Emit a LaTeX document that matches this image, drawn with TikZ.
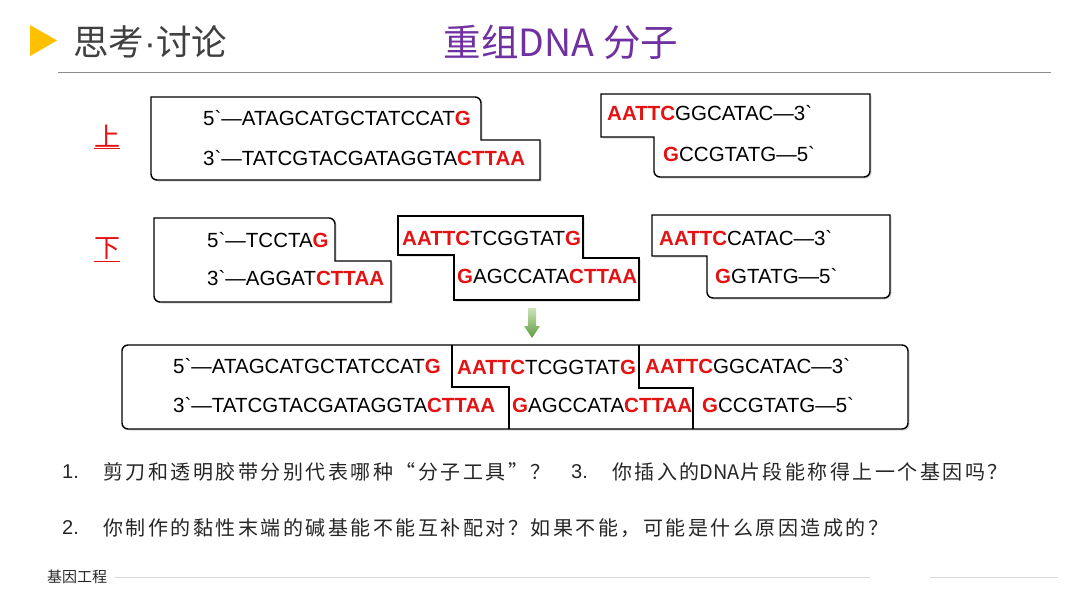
\documentclass[tikz,border=0pt]{standalone}
\usepackage{fontspec}
\setmainfont{Liberation Sans}[Ligatures=TeXOff]
\newfontfamily\cjk{Noto Sans CJK SC}
\newfontfamily\cjkq[LetterSpace=12.5]{Noto Sans CJK SC}
\newfontfamily\latdot{Liberation Sans}
\usetikzlibrary{shadows}
\definecolor{hdryellow}{HTML}{FFC000}
\definecolor{hdrgray}{HTML}{404040}
\definecolor{hdrpurple}{HTML}{7030A0}
\definecolor{seqred}{RGB}{228,18,18}
\definecolor{qtext}{HTML}{262626}
\definecolor{rulegray}{HTML}{8C8C8C}
\definecolor{footgray}{HTML}{D9D9D9}
\definecolor{arrtop}{RGB}{205,228,185}
\definecolor{arrbot}{RGB}{95,155,65}
\newcommand{\rb}[1]{\textcolor{seqred}{\textbf{#1}}}
\newcommand{\bq}{`}
\tikzset{
  seq/.style={anchor=west, inner sep=0pt, font=\fontsize{20.5}{25}\selectfont, text=black},
  dnabox/.style={draw=black, line width=1.4pt, fill=white,
    drop shadow={shadow xshift=1.6pt, shadow yshift=-1.6pt, opacity=0.3, fill=gray}},
  joinline/.style={draw=black, line width=2.4pt},
  sidelabel/.style={inner sep=0pt, text=seqred, font=\cjk\fontsize{26}{30}\selectfont},
  question/.style={anchor=west, inner sep=0pt, text=qtext, font=\cjkq\fontsize{20}{24}\selectfont},
  qnum/.style={anchor=west, inner sep=0pt, text=qtext, font=\fontsize{20}{24}\selectfont},
}
\begin{document}
\begin{tikzpicture}[x=1pt,y=-1pt]
\useasboundingbox (0,0) rectangle (1080,608);
% header
\fill[hdryellow] (30,25) -- (57,40.5) -- (30,56) -- cycle;
\node[anchor=west, inner sep=0pt, text=hdrgray, font=\cjk\fontsize{35.5}{42}\selectfont] (hdr) at (73,42) {思考{\latdot\fontsize{35.5}{42}\selectfont·}讨论};
\node[inner sep=0pt, text=hdrpurple, font=\cjk\fontsize{37.5}{44}\selectfont] (title) at (561,42) {重组DNA 分子};
\draw[rulegray, line width=1pt] (58,72) -- (1051,72);

% side labels
\node[sidelabel] (up) at (107,137) {\underline{上}};
\node[sidelabel] (down) at (107,250) {\underline{下}};

% Box A
\path[dnabox] (151,140) -- (151,97) [rounded corners=6] -- (481,97) [sharp corners] -- (481,140) -- (540,140) -- (540,180) [rounded corners=6] -- (151,180) -- cycle;
\node[seq] (a1) at (203,118) {5\bq—ATAGCATGCTATCCAT\rb{G}};
\node[seq] (a2) at (203,158) {3\bq—TATCGTACGATAGGTA\rb{CTTAA}};

% Box B
\path[dnabox] (601,115) -- (601,94) -- (870,94) [rounded corners=6] -- (870,177) -- (654,177) [sharp corners] -- (654,137) -- (601,137) -- cycle;
\node[seq] (b1) at (607,113) {\rb{AATTC}GGCATAC—3\bq};
\node[seq] (b2) at (663,154) {\rb{G}CCGTATG—5\bq};

% Box C
\path[dnabox] (154,260) -- (154,218) [rounded corners=6] -- (335,218) [sharp corners] -- (335,261) -- (391,261) -- (391,302) [rounded corners=6] -- (154,302) -- cycle;
\node[seq] (c1) at (207,240) {5\bq—TCCTA\rb{G}};
\node[seq] (c2) at (207,278) {3\bq—AGGAT\rb{CTTAA}};

% Box D
\path[dnabox] (398,216) -- (583,216) -- (583,258) -- (639,258) -- (639,300) -- (454,300) -- (454,255) -- (398,255) -- cycle;
\node[seq] (d1) at (402,238) {\rb{AATTC}TCGGTAT\rb{G}};
\node[seq] (d2) at (457,276) {\rb{G}AGCCATA\rb{CTTAA}};

% Box E
\path[dnabox] (652,235) -- (652,215) -- (890,215) [rounded corners=6] -- (890,298) -- (707,298) [sharp corners] -- (707,256) -- (652,256) -- cycle;
\node[seq] (e1) at (659,238) {\rb{AATTC}CATAC—3\bq};
\node[seq] (e2) at (715,276) {\rb{G}GTATG—5\bq};

% arrow
\shade[top color=arrtop, bottom color=arrbot] (528,308) -- (536,308) -- (536,326) -- (540,326) -- (532,338) -- (524,326) -- (528,326) -- cycle;

% combined box
\path[dnabox, rounded corners=6] (122,345) rectangle (908,429);
\path[joinline] (452,345) -- (452,387) -- (509,387) -- (509,429);
\path[joinline] (639,345) -- (639,388) -- (693,388) -- (693,429);
\node[seq] (f1) at (173,366) {5\bq—ATAGCATGCTATCCAT\rb{G}};
\node[seq] (f2) at (457,367) {\rb{AATTC}TCGGTAT\rb{G}};
\node[seq] (f3) at (645,366) {\rb{AATTC}GGCATAC—3\bq};
\node[seq] (g1) at (173,405) {3\bq—TATCGTACGATAGGTA\rb{CTTAA}};
\node[seq] (g2) at (512,405) {\rb{G}AGCCATA\rb{CTTAA}};
\node[seq] (g3) at (702,405) {\rb{G}CCGTATG—5\bq};

% questions
\node[qnum] (n1) at (62,472) {1.};
\node[question] (q1) at (103,472) {剪刀和透明胶带分别代表哪种“分子工具”？};
\node[qnum] (n3) at (571,472) {3.};
\node[question] (q3) at (612,472) {你插入的{\cjk\fontsize{20}{24}\selectfont DNA}片段能称得上一个基因吗？};
\node[qnum] (n2) at (62,528) {2.};
\node[question] (q2) at (103,528) {你制作的黏性末端的碱基能不能互补配对？如果不能，可能是什么原因造成的？};

% footer
\node[anchor=west, inner sep=0pt, text=qtext, font=\cjk\fontsize{15}{18}\selectfont] (foot) at (47,577) {基因工程};
\draw[footgray, line width=1pt] (115,577) -- (870,577);
\draw[footgray, line width=1pt] (930,577) -- (1058,577);
\end{tikzpicture}
\end{document}
